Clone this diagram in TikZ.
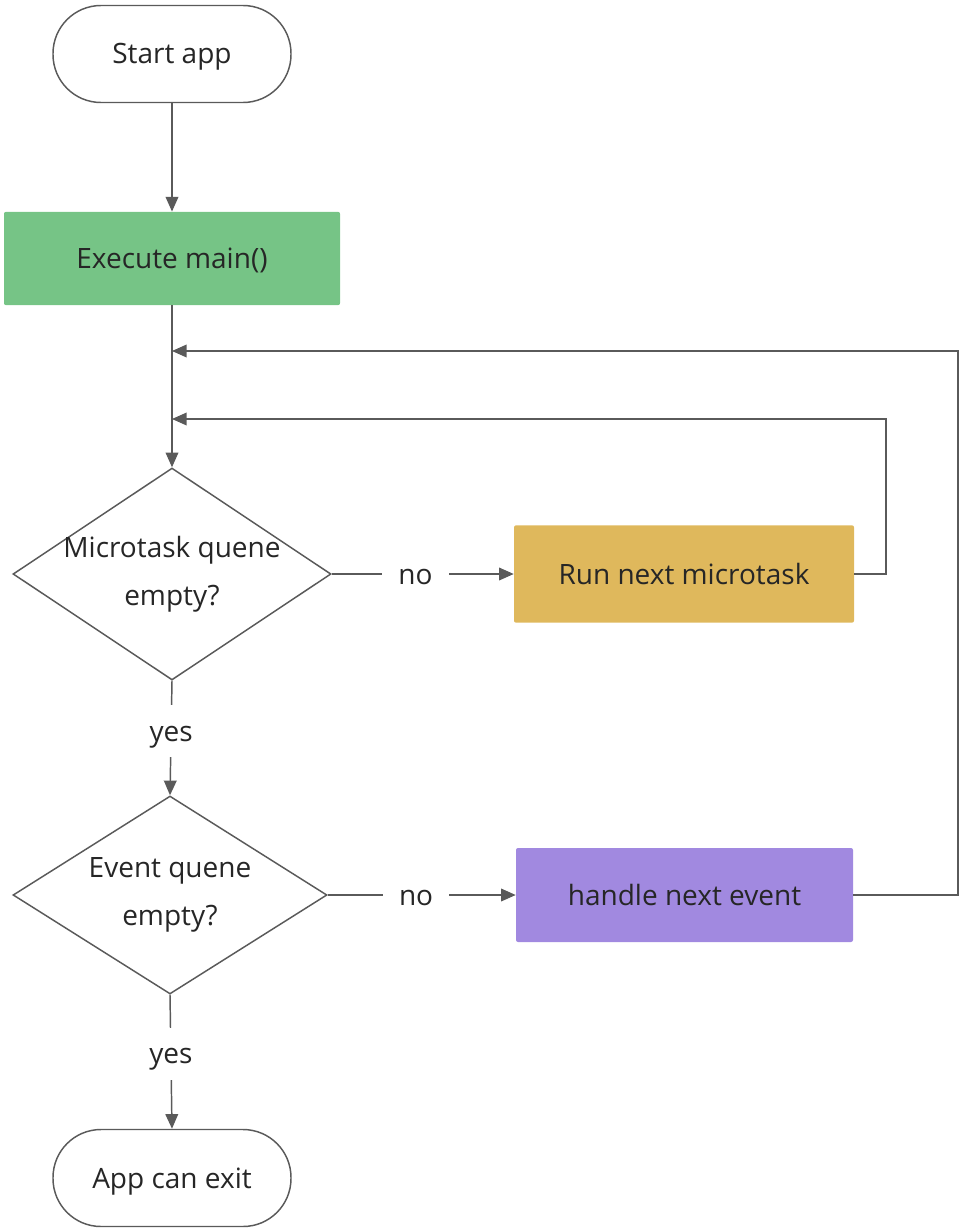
\documentclass[tikz,border=0pt]{standalone}
\usepackage{fontspec}
\setmainfont{Open Sans}
\usetikzlibrary{shapes.geometric,arrows.meta}
\definecolor{linegray}{RGB}{90,90,90}
\definecolor{txt}{RGB}{38,38,38}
\definecolor{fgreen}{RGB}{118,196,134}
\definecolor{fgold}{RGB}{223,184,92}
\definecolor{fpurple}{RGB}{161,137,224}
\begin{document}
\begin{tikzpicture}[x=0.75pt,y=-0.75pt,
  every node/.style={text=txt,font=\fontsize{21}{36}\selectfont},
  oneline/.style={text height=15pt,text depth=0pt},
  term/.style={oneline,draw=linegray,line width=1.1pt,rounded corners=36pt,minimum width=178.5pt,minimum height=72.75pt,fill=white},
  proc/.style={oneline,draw=none,rounded corners=1.5pt},
  dec/.style={diamond,draw=linegray,line width=1.1pt,inner sep=-10pt,align=center,fill=white},
  arr/.style={draw=linegray,line width=1.1pt,-{Triangle[length=11pt,width=9.5pt]}},
  lbl/.style={oneline,fill=white,inner xsep=12pt,inner ysep=12pt}]
\useasboundingbox (0,0) rectangle (961,1231);
\node[term] (start) at (172,54) {Start app};
\node[proc,fill=fgreen,minimum width=252pt,minimum height=70pt] (exec) at (172,258.5) {Execute main()};
\node[dec,aspect=1.5,minimum width=238.5pt,minimum height=159pt] (d1) at (172,574) {Microtask quene\\empty?};
\node[proc,fill=fgold,minimum width=255pt,minimum height=73pt] (run) at (684,574) {Run next microtask};
\node[dec,aspect=1.59,minimum width=235.5pt,minimum height=148.5pt] (d2) at (170,895) {Event quene\\empty?};
\node[proc,fill=fpurple,minimum width=252.75pt,minimum height=70.5pt] (ev) at (684.5,895) {handle next event};
\node[term] (exit) at (172,1178) {App can exit};
\coordinate (c1) at (958,351);
\coordinate (j1) at (172,351);
\coordinate (c2) at (886,419);
\coordinate (j2) at (172,419);
\draw[arr] (start.south) -- (exec.north);
\draw[arr] (exec.south) -- (d1.north);
\draw[arr] (d1.east) -- node[lbl,pos=0.46] {no} (run.west);
\draw[arr] (d1.south) -- node[lbl,pos=0.44] {yes} (d2.north);
\draw[arr] (d2.east) -- node[lbl,pos=0.47] {no} (ev.west);
\draw[arr] (d2.south) -- node[lbl,pos=0.44] {yes} (exit.north);
\draw[arr] (run.east) -| (c2) -- (j2);
\draw[arr] (ev.east) -| (c1) -- (j1);
\end{tikzpicture}
\end{document}
